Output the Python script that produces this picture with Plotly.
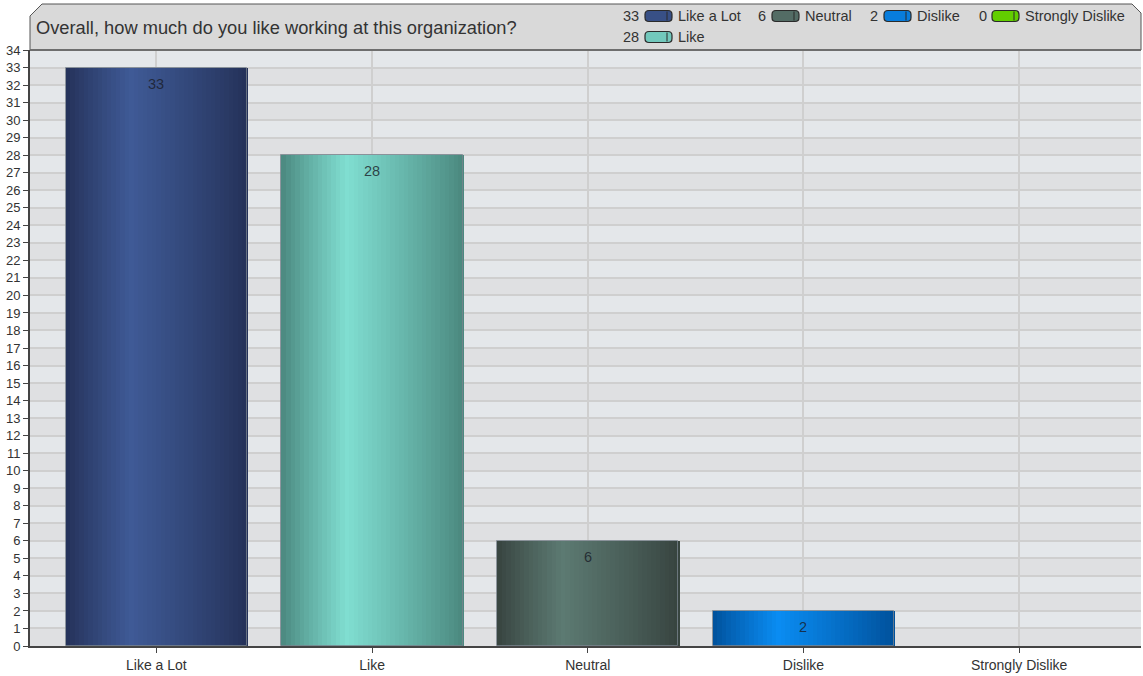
import plotly.graph_objects as go

# ---- data ----
categories = ["Like a Lot", "Like", "Neutral", "Dislike", "Strongly Dislike"]
values = [33, 28, 6, 2, 0]
title_text = "Overall, how much do you like working at this organization?"
y_ticks = list(range(0, 35))

# colour pairs (edge dark, highlight light) per category
dark_cols = ["#243158", "#4a877e", "#37433f", "#00509a", "#3f9a00"]
light_cols = ["#3f5a96", "#80ded1", "#5c7a72", "#0a8cf2", "#6ee000"]

# ---- geometry helpers (pixels -> paper) ----
W, H = 1143, 676
L, R, T, B = 30, 1141, 50, 646
FONT = "Liberation Sans, Arial"


def px(x):
    return (x - L) / (R - L)


def py(y):
    return (B - y) / (B - T)


def hex2rgb(h):
    h = h.lstrip("#")
    return tuple(int(h[i:i + 2], 16) for i in (0, 2, 4))


def mix(c1, c2, t):
    a, b = hex2rgb(c1), hex2rgb(c2)
    return "rgb(%d,%d,%d)" % tuple(round(a[i] + (b[i] - a[i]) * t) for i in range(3))


def profile(u, peak=0.36):
    if u < peak:
        t = u / peak
    else:
        t = (1 - u) / (1 - peak)
    return t ** 0.9


fig = go.Figure()

BW = 0.84
N = 40
sw = BW / N
for i in range(N):
    u = (i + 0.5) / N
    t = profile(u)
    cols = [mix(d, l, t) for d, l in zip(dark_cols, light_cols)]
    fig.add_trace(go.Bar(
        x=categories, y=values, width=sw * 1.3, offset=-BW / 2 + i * sw,
        marker=dict(color=cols, line=dict(width=0)),
        hoverinfo="skip", showlegend=False,
    ))

# outline
fig.add_trace(go.Bar(
    x=categories, y=values, width=BW,
    marker=dict(color="rgba(0,0,0,0)",
                line=dict(color="rgba(120,130,140,0.8)", width=[1 if v > 0 else 0 for v in values])),
    showlegend=False, hoverinfo="skip",
))

shapes = []
# alternating background bands
for k in range(34):
    shapes.append(dict(type="rect", xref="paper", yref="y", x0=0, x1=1, y0=k, y1=k + 1,
                       fillcolor="#e4e7ea" if k % 2 == 1 else "#dfe0e2",
                       line=dict(width=0), layer="below"))

# header box with bevelled corners
hx0, hx1, hy0, hy1 = 30, 1141, 4, 50
path = "M %f,%f L %f,%f L %f,%f L %f,%f L %f,%f L %f,%f Z" % (
    px(hx0), py(hy1), px(hx0), py(16), px(42), py(hy0),
    px(1132), py(hy0), px(hx1), py(13), px(hx1), py(hy1))
shapes.append(dict(type="path", xref="paper", yref="paper", path=path,
                   fillcolor="#d9d9d9", line=dict(color="#555555", width=1), layer="above"))
shapes.append(dict(type="line", xref="paper", yref="paper", x0=px(hx0), x1=px(hx1),
                   y0=py(hy1), y1=py(hy1), line=dict(color="#6e6e6e", width=2)))

annotations = [dict(text=title_text, xref="paper", yref="paper", x=px(34), y=py(27),
                    xanchor="left", yanchor="middle", showarrow=False,
                    font=dict(size=18.3, color="#333333", family=FONT))]

# value labels inside bar tops
for c, v in zip(categories, values):
    if v > 0:
        annotations.append(dict(text=str(v), x=c, y=v, xref="x", yref="y", yanchor="middle",
                                yshift=-16, showarrow=False,
                                font=dict(size=14.5, color="rgba(25,28,40,0.8)", family=FONT)))

# legend: (category index, number right edge, pill left, row y)
legend_pos = [(0, 641, 645, 16), (2, 768, 772, 16), (3, 880, 884, 16), (4, 989, 992, 16), (1, 641, 645, 37)]
for idx, nx, pl, ry in legend_pos:
    annotations.append(dict(text=str(values[idx]), xref="paper", yref="paper", x=px(nx), y=py(ry),
                            xanchor="right", yanchor="middle", showarrow=False,
                            font=dict(size=14.5, color="#333333", family=FONT)))
    annotations.append(dict(text=categories[idx], xref="paper", yref="paper", x=px(pl + 31), y=py(ry),
                            xanchor="left", yanchor="middle", showarrow=False,
                            font=dict(size=14.5, color="#333333", family=FONT)))
    pw, ph = 27, 11
    x0, x1, y0, y1 = pl, pl + pw, ry - ph / 2, ry + ph / 2
    r = 4
    p = ("M %f,%f L %f,%f Q %f,%f %f,%f L %f,%f Q %f,%f %f,%f L %f,%f Q %f,%f %f,%f L %f,%f Q %f,%f %f,%f Z" % (
        px(x0 + r), py(y0), px(x1 - r), py(y0), px(x1), py(y0), px(x1), py(y0 + r),
        px(x1), py(y1 - r), px(x1), py(y1), px(x1 - r), py(y1),
        px(x0 + r), py(y1), px(x0), py(y1), px(x0), py(y1 - r),
        px(x0), py(y0 + r), px(x0), py(y0), px(x0 + r), py(y0)))
    shapes.append(dict(type="path", xref="paper", yref="paper", path=p,
                       fillcolor=mix(dark_cols[idx], light_cols[idx], 0.75),
                       line=dict(color="#2a2a2a", width=1.2), layer="above"))
    shapes.append(dict(type="line", xref="paper", yref="paper", x0=px(x1 - 5), x1=px(x1 - 5),
                       y0=py(y0 + 1), y1=py(y1 - 1), line=dict(color="#2a2a2a", width=1), layer="above"))

fig.update_layout(
    width=W, height=H,
    margin=dict(l=L, r=W - R, t=T, b=H - B, pad=0),
    paper_bgcolor="white", plot_bgcolor="#e2e4e6",
    barmode="overlay", bargap=0,
    showlegend=False,
    shapes=shapes, annotations=annotations,
    font=dict(family=FONT, color="#333333"),
    xaxis=dict(range=[-0.586, 4.565], showgrid=True, gridcolor="#cfcfcf", gridwidth=1.5,
               ticks="outside", ticklen=5, tickcolor="#444444",
               showline=True, linecolor="#444444", linewidth=2,
               tickfont=dict(size=14, color="#333333"), fixedrange=True),
    yaxis=dict(range=[0, 34], tickvals=y_ticks, showgrid=True, gridcolor="#cfcfcf", gridwidth=2,
               ticks="outside", ticklen=5, tickcolor="#444444",
               showline=True, linecolor="#444444", linewidth=2, zeroline=False,
               tickfont=dict(size=13, color="#333333"), fixedrange=True),
)

fig.write_html("out.html", config={"displayModeBar": False},
               post_script="document.body.style.margin='0';document.body.style.overflow='hidden';")
